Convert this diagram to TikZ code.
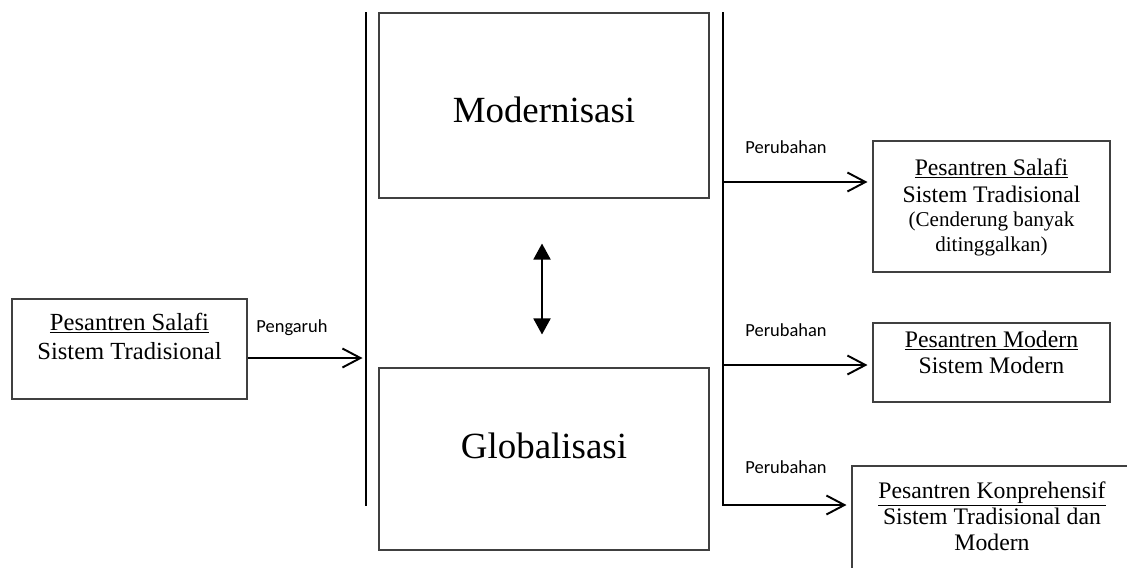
\documentclass[tikz,border=0pt]{standalone}
\usepackage{fontspec}
\setmainfont{Liberation Serif}
\newfontfamily\calibri{Carlito}
\usetikzlibrary{arrows.meta}

\newcommand{\isikotak}[4]{\parbox[c][#2][t]{#1}{\centering\rule{0pt}{#3}#4}}

\begin{document}
\begin{tikzpicture}[line width=1.1pt,
    kotak/.style={draw=black!75, line width=0.6pt, inner sep=0pt},
    ket/.style={font=\calibri\fontsize{10.5}{12}\selectfont},
    panah/.style={-{Straight Barb[length=3.6mm, width=3.8mm]}}]
  \clip (0,0) rectangle (22.54,-11.34);
  % kotak asal
  \node[kotak, font=\fontsize{14}{17}\selectfont] (salafi) at (2.59,-6.98)
    {\isikotak{4.7cm}{2cm}{0.62cm}{\underline{Pesantren Salafi}\\Sistem Tradisional}};
  % modernisasi dan globalisasi
  \node[kotak, font=\fontsize{21}{25}\selectfont] (modern) at (10.88,-2.11)
    {\isikotak{6.6cm}{3.7cm}{2.18cm}{Modernisasi}};
  \node[kotak, font=\fontsize{21}{25}\selectfont] (global) at (10.88,-9.18)
    {\isikotak{6.6cm}{3.64cm}{1.8cm}{Globalisasi}};
  % kotak hasil
  \node[kotak, font=\fontsize{13.5}{15.5}\selectfont] (hasilsalafi) at (19.83,-4.13)
    {\isikotak{4.74cm}{2.62cm}{0.68cm}{\underline{Pesantren Salafi}\\Sistem Tradisional\par
      {\fontsize{12}{14}\selectfont (Cenderung banyak\\ditinggalkan)\par}}};
  \node[kotak, font=\fontsize{13.5}{15}\selectfont] (hasilmodern) at (19.83,-7.25)
    {\isikotak{4.74cm}{1.58cm}{0.48cm}{\underline{Pesantren Modern}\\Sistem Modern}};
  \node[kotak, font=\fontsize{13.5}{15}\selectfont] (hasilkonpre) at (19.84,-10.46)
    {\isikotak{5.6cm}{2.28cm}{0.64cm}{\underline{Pesantren Konprehensif}\\Sistem Tradisional dan\\Modern}};
  % keterangan panah
  \node[ket] (pengaruh) at (5.84,-6.56) {Pengaruh};
  \node[ket] (ubah1) at (15.72,-2.94) {Perubahan};
  \node[ket] (ubah2) at (15.72,-6.60) {Perubahan};
  \node[ket] (ubah3) at (15.72,-9.34) {Perubahan};
  % garis tegak kiri dan kanan
  \coordinate (kiriatas) at (7.32,-0.24);
  \coordinate (kiribawah) at (7.32,-10.12);
  \coordinate (masuk) at (7.25,-7.16);
  \coordinate (kananatas) at (14.46,-0.24);
  \coordinate (c1) at (14.46,-3.64);
  \coordinate (c2) at (14.46,-7.30);
  \coordinate (c3) at (14.46,-10.10);
  \draw (kiriatas) -- (kiribawah);
  \draw[panah] (salafi.east |- masuk) -- (masuk);
  \draw[panah, shorten >=0.1cm] (kananatas) -- (c3) -- (c3 -| hasilkonpre.west);
  \draw[panah, shorten >=0.1cm] (c1) -- (c1 -| hasilsalafi.west);
  \draw[panah, shorten >=0.1cm] (c2) -- (c2 -| hasilmodern.west);
  % saling mempengaruhi
  \draw[{Triangle[length=3.2mm, width=3.4mm]}-{Triangle[length=3.2mm, width=3.4mm]},
    shorten <=0.9cm, shorten >=0.66cm]
    ([xshift=-0.04cm]modern.south) -- ([xshift=-0.04cm]global.north);
\end{tikzpicture}
\end{document}
